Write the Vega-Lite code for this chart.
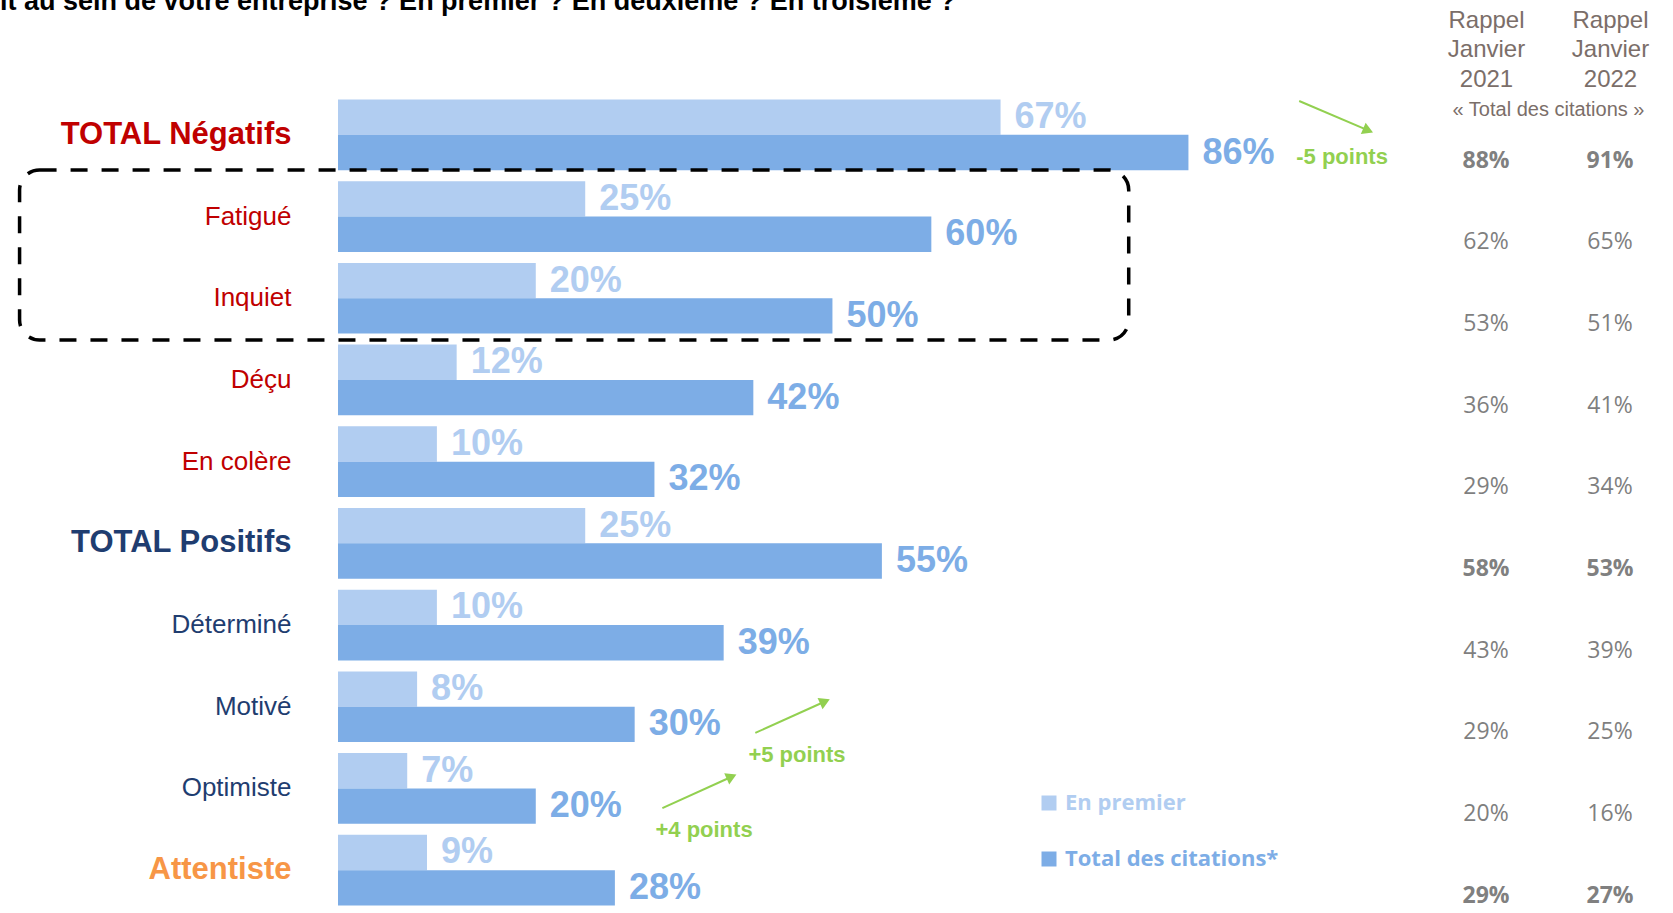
{
  "$schema": "https://vega.github.io/schema/vega-lite/v6.json",
  "width": 1335,
  "height": 817,
  "autosize": {"type": "none"},
  "padding": {"left": 338, "top": 94, "right": 0, "bottom": 2},
  "background": "white",
  "title": {
    "text": "it au sein de votre entreprise ? En premier ? En deuxième ? En troisième ?",
    "anchor": "start",
    "frame": "group",
    "dx": -338,
    "dy": 8,
    "offset": 0,
    "font": "Liberation Sans",
    "fontSize": 27,
    "fontWeight": "bold",
    "color": "#000000"
  },
  "config": {"view": {"stroke": null}},
  "datasets": {
    "barres": [
      {"etat": "TOTAL Négatifs", "serie": "En premier", "part": 0.67},
      {"etat": "TOTAL Négatifs", "serie": "Total des citations*", "part": 0.86},
      {"etat": "Fatigué", "serie": "En premier", "part": 0.25},
      {"etat": "Fatigué", "serie": "Total des citations*", "part": 0.60},
      {"etat": "Inquiet", "serie": "En premier", "part": 0.20},
      {"etat": "Inquiet", "serie": "Total des citations*", "part": 0.50},
      {"etat": "Déçu", "serie": "En premier", "part": 0.12},
      {"etat": "Déçu", "serie": "Total des citations*", "part": 0.42},
      {"etat": "En colère", "serie": "En premier", "part": 0.10},
      {"etat": "En colère", "serie": "Total des citations*", "part": 0.32},
      {"etat": "TOTAL Positifs", "serie": "En premier", "part": 0.25},
      {"etat": "TOTAL Positifs", "serie": "Total des citations*", "part": 0.55},
      {"etat": "Déterminé", "serie": "En premier", "part": 0.10},
      {"etat": "Déterminé", "serie": "Total des citations*", "part": 0.39},
      {"etat": "Motivé", "serie": "En premier", "part": 0.08},
      {"etat": "Motivé", "serie": "Total des citations*", "part": 0.30},
      {"etat": "Optimiste", "serie": "En premier", "part": 0.07},
      {"etat": "Optimiste", "serie": "Total des citations*", "part": 0.20},
      {"etat": "Attentiste", "serie": "En premier", "part": 0.09},
      {"etat": "Attentiste", "serie": "Total des citations*", "part": 0.28}
    ],
    "rappel": [
      {"etat": "TOTAL Négatifs", "annee": "2021", "part": 0.88},
      {"etat": "TOTAL Négatifs", "annee": "2022", "part": 0.91},
      {"etat": "Fatigué", "annee": "2021", "part": 0.62},
      {"etat": "Fatigué", "annee": "2022", "part": 0.65},
      {"etat": "Inquiet", "annee": "2021", "part": 0.53},
      {"etat": "Inquiet", "annee": "2022", "part": 0.51},
      {"etat": "Déçu", "annee": "2021", "part": 0.36},
      {"etat": "Déçu", "annee": "2022", "part": 0.41},
      {"etat": "En colère", "annee": "2021", "part": 0.29},
      {"etat": "En colère", "annee": "2022", "part": 0.34},
      {"etat": "TOTAL Positifs", "annee": "2021", "part": 0.58},
      {"etat": "TOTAL Positifs", "annee": "2022", "part": 0.53},
      {"etat": "Déterminé", "annee": "2021", "part": 0.43},
      {"etat": "Déterminé", "annee": "2022", "part": 0.39},
      {"etat": "Motivé", "annee": "2021", "part": 0.29},
      {"etat": "Motivé", "annee": "2022", "part": 0.25},
      {"etat": "Optimiste", "annee": "2021", "part": 0.20},
      {"etat": "Optimiste", "annee": "2022", "part": 0.16},
      {"etat": "Attentiste", "annee": "2021", "part": 0.29},
      {"etat": "Attentiste", "annee": "2022", "part": 0.27}
    ],
    "notes": [
      {"texte": "-5 points", "tx": 0.969, "ty": 0.767, "ax": 0.972, "ay": 0.086, "bx": 1.0417, "by": 0.446},
      {"texte": "+5 points", "tx": 0.415, "ty": 8.09, "ax": 0.422, "ay": 7.82, "bx": 0.4924, "by": 7.436},
      {"texte": "+4 points", "tx": 0.321, "ty": 9.01, "ax": 0.328, "ay": 8.74, "bx": 0.398, "by": 8.357}
    ],
    "cadre": [
      {"groupe": "Fatigué / Inquiet", "x1": -0.322, "x2": 0.7996, "y1": 0.93, "y2": 3.011}
    ]
  },
  "layer": [
    {
      "data": {"name": "barres"},
      "mark": {"type": "bar"},
      "encoding": {
        "y": {
          "field": "etat", "type": "nominal",
          "scale": {"domain": ["TOTAL Négatifs","Fatigué","Inquiet","Déçu","En colère","TOTAL Positifs","Déterminé","Motivé","Optimiste","Attentiste"], "paddingInner": 0.135, "paddingOuter": 0.0675},
          "axis": {
            "title": null, "ticks": false, "domain": false, "grid": false,
            "labelPadding": 47, "labelLimit": 400,
            "labelFont": "Liberation Sans",
            "labelFontSize": {"condition": {"test": "indexof(['TOTAL Négatifs','TOTAL Positifs','Attentiste'], datum.value) >= 0", "value": 31}, "value": 26},
            "labelFontWeight": {"condition": {"test": "indexof(['TOTAL Négatifs','TOTAL Positifs','Attentiste'], datum.value) >= 0", "value": "bold"}, "value": "normal"},
            "labelColor": {"condition": [
              {"test": "datum.value == 'Attentiste'", "value": "#F79646"},
              {"test": "indexof(['TOTAL Positifs','Déterminé','Motivé','Optimiste'], datum.value) >= 0", "value": "#1F3D70"}
            ], "value": "#C00000"}
          }
        },
        "yOffset": {"field": "serie", "type": "nominal", "scale": {"domain": ["En premier", "Total des citations*"], "paddingInner": 0, "paddingOuter": 0}},
        "x": {"field": "part", "type": "quantitative", "scale": {"domain": [0, 1.35], "nice": false}, "axis": null},
        "color": {
          "field": "serie", "type": "nominal",
          "scale": {"domain": ["En premier", "Total des citations*"], "range": ["#B1CDF1", "#7DADE6"]},
          "legend": {
            "orient": "none", "legendX": 700, "legendY": 698, "title": null,
            "symbolType": "square", "symbolSize": 225, "symbolStrokeWidth": 0,
            "labelFont": "Open Sans", "labelFontWeight": "bold", "labelFontSize": 22,
            "labelOffset": 5, "rowPadding": 34, "labelLimit": 400,
            "encode": {"labels": {"update": {"fill": {"scale": "color", "field": "value"}}}}
          }
        }
      }
    },
    {
      "data": {"name": "barres"},
      "mark": {"type": "text", "align": "left", "baseline": "middle", "dx": 14, "font": "Liberation Sans", "fontWeight": "bold", "fontSize": 36},
      "encoding": {
        "y": {"field": "etat", "type": "nominal", "scale": {"domain": ["TOTAL Négatifs","Fatigué","Inquiet","Déçu","En colère","TOTAL Positifs","Déterminé","Motivé","Optimiste","Attentiste"], "paddingInner": 0.135, "paddingOuter": 0.0675}, "axis": null},
        "yOffset": {"field": "serie", "type": "nominal", "scale": {"domain": ["En premier", "Total des citations*"], "paddingInner": 0, "paddingOuter": 0}},
        "x": {"field": "part", "type": "quantitative", "scale": {"domain": [0, 1.35], "nice": false}, "axis": null},
        "text": {"field": "part", "type": "quantitative", "format": ".0%"},
        "color": {"field": "serie", "type": "nominal", "scale": {"domain": ["En premier", "Total des citations*"], "range": ["#B1CDF1", "#7DADE6"]}}
      }
    },
    {
      "data": {"name": "rappel"},
      "transform": [{"filter": "indexof(['TOTAL Négatifs','TOTAL Positifs','Attentiste'], datum.etat) < 0"}],
      "mark": {"type": "text", "align": "center", "baseline": "middle", "dy": 8, "font": "Open Sans", "fontSize": 23, "color": "#7F7F7F"},
      "encoding": {
        "x": {
          "field": "annee", "type": "nominal",
          "scale": {"type": "point", "domain": ["2021", "2022"], "range": [1148, 1272], "padding": 0},
          "axis": {
            "orient": "top", "ticks": false, "domain": false, "grid": false, "labelAngle": 0,
            "labelExpr": "['Rappel', 'Janvier', datum.label]",
            "labelFont": "Liberation Sans", "labelFontSize": 24, "labelLineHeight": 29.5,
            "labelColor": "#7B6E69", "labelPadding": 62,
            "title": "« Total des citations »",
            "titleFont": "Liberation Sans", "titleFontSize": 20, "titleFontWeight": "normal",
            "titleColor": "#7B6E69", "titleY": 15, "titleBaseline": "middle"
          }
        },
        "y": {"field": "etat", "type": "nominal", "scale": {"domain": ["TOTAL Négatifs","Fatigué","Inquiet","Déçu","En colère","TOTAL Positifs","Déterminé","Motivé","Optimiste","Attentiste"], "paddingInner": 0.135, "paddingOuter": 0.0675}, "axis": null},
        "yOffset": {"datum": "Total des citations*"},
        "text": {"field": "part", "type": "quantitative", "format": ".0%"}
      }
    },
    {
      "data": {"name": "rappel"},
      "transform": [{"filter": "indexof(['TOTAL Négatifs','TOTAL Positifs','Attentiste'], datum.etat) >= 0"}],
      "mark": {"type": "text", "align": "center", "baseline": "middle", "dy": 8, "font": "Open Sans", "fontSize": 23, "fontWeight": "bold", "color": "#808080"},
      "encoding": {
        "x": {"field": "annee", "type": "nominal", "scale": {"type": "point", "domain": ["2021", "2022"], "range": [1148, 1272], "padding": 0}, "axis": null},
        "y": {"field": "etat", "type": "nominal", "scale": {"domain": ["TOTAL Négatifs","Fatigué","Inquiet","Déçu","En colère","TOTAL Positifs","Déterminé","Motivé","Optimiste","Attentiste"], "paddingInner": 0.135, "paddingOuter": 0.0675}, "axis": null},
        "yOffset": {"datum": "Total des citations*"},
        "text": {"field": "part", "type": "quantitative", "format": ".0%"}
      }
    },
    {
      "data": {"name": "cadre"},
      "mark": {"type": "rect", "filled": false, "stroke": "#000000", "strokeWidth": 3.5, "strokeDash": [17, 14], "cornerRadius": 20},
      "encoding": {
        "x": {"field": "x1", "type": "quantitative", "scale": {"domain": [0, 1.35], "nice": false}, "axis": null},
        "x2": {"field": "x2"},
        "y": {"field": "y1", "type": "quantitative", "scale": {"domain": [0, 10], "reverse": true, "nice": false, "zero": false}, "axis": null},
        "y2": {"field": "y2"}
      }
    },
    {
      "data": {"name": "notes"},
      "mark": {"type": "rule", "color": "#92D050", "strokeWidth": 2},
      "encoding": {
        "x": {"field": "ax", "type": "quantitative", "scale": {"domain": [0, 1.35], "nice": false}, "axis": null},
        "x2": {"field": "bx"},
        "y": {"field": "ay", "type": "quantitative", "scale": {"domain": [0, 10], "reverse": true, "nice": false, "zero": false}, "axis": null},
        "y2": {"field": "by"}
      }
    },
    {
      "data": {"name": "notes"},
      "mark": {"type": "point", "shape": "triangle-right", "filled": true, "color": "#92D050", "size": 150, "opacity": 1},
      "encoding": {
        "x": {"field": "bx", "type": "quantitative", "scale": {"domain": [0, 1.35], "nice": false}, "axis": null},
        "y": {"field": "by", "type": "quantitative", "scale": {"domain": [0, 10], "reverse": true, "nice": false, "zero": false}, "axis": null},
        "angle": {"condition": {"test": "datum.texte == '-5 points'", "value": 23}, "value": 336}
      }
    },
    {
      "data": {"name": "notes"},
      "mark": {"type": "text", "align": "left", "baseline": "middle", "font": "Liberation Sans", "fontWeight": "bold", "fontSize": 22, "color": "#92D050"},
      "encoding": {
        "x": {"field": "tx", "type": "quantitative", "scale": {"domain": [0, 1.35], "nice": false}, "axis": null},
        "y": {"field": "ty", "type": "quantitative", "scale": {"domain": [0, 10], "reverse": true, "nice": false, "zero": false}, "axis": null},
        "text": {"field": "texte"}
      }
    }
  ],
  "resolve": {"scale": {"x": "independent", "y": "independent"}, "axis": {"x": "independent", "y": "independent"}}
}
